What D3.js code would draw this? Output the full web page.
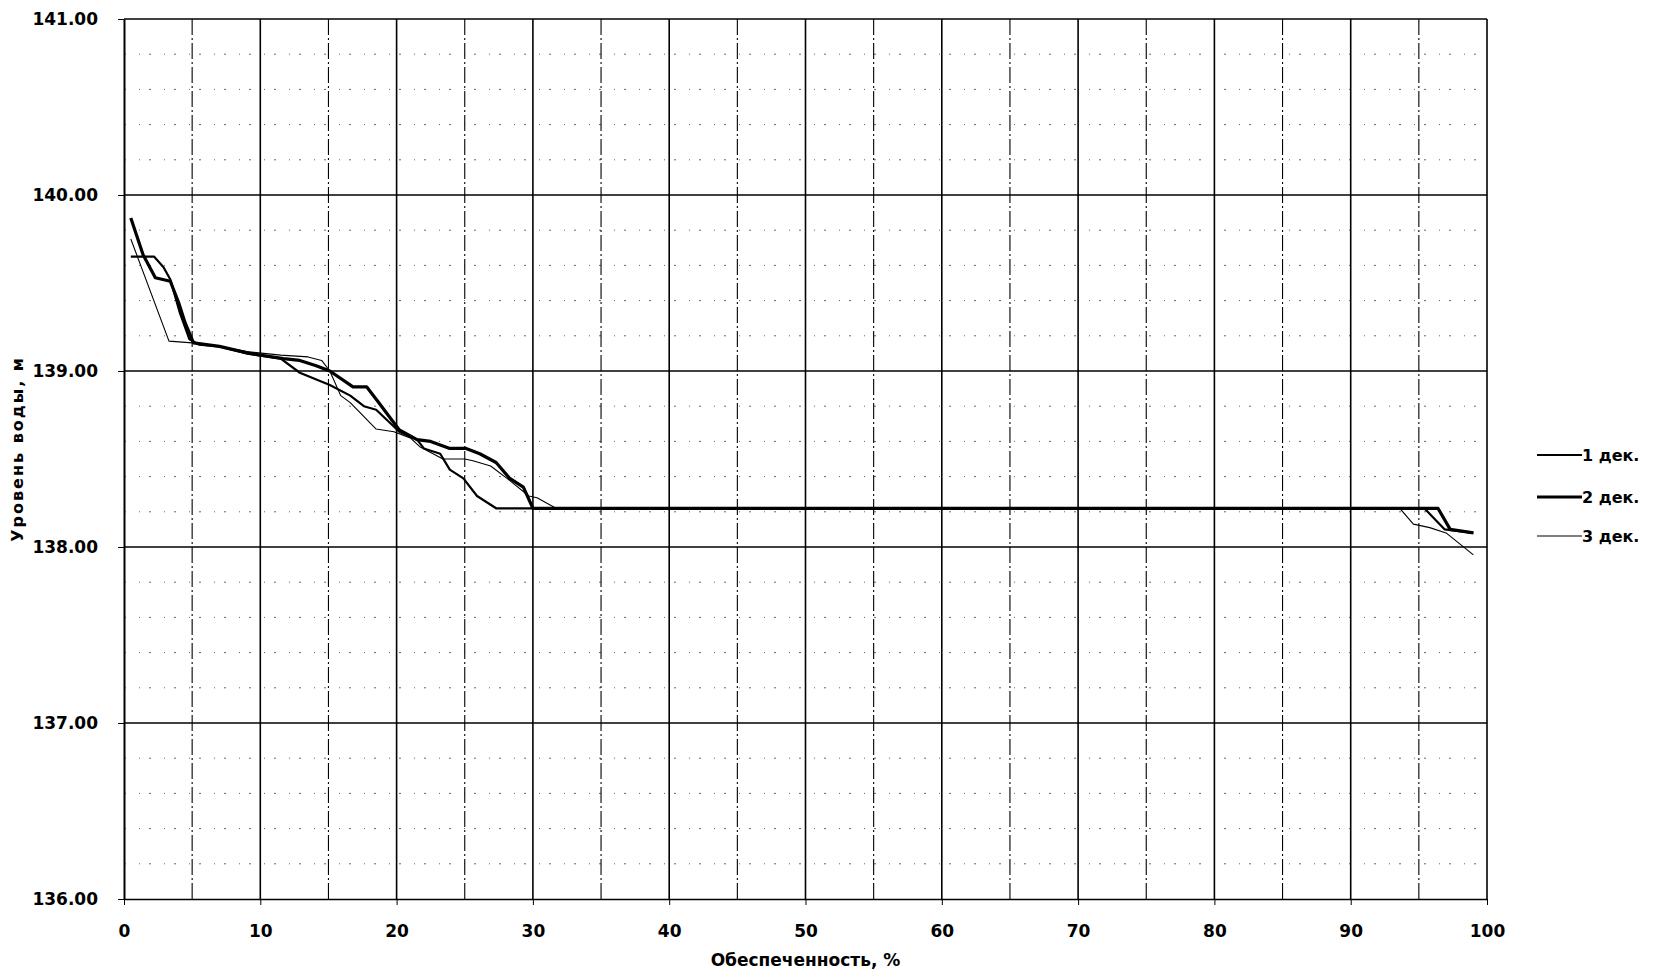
<!DOCTYPE html>
<html lang="ru">
<head>
<meta charset="utf-8">
<title>Уровень воды</title>
<script src="https://d3js.org/d3.v7.min.js"></script>
<style>
  body { margin: 0; background: #fff; }
  svg text { font-family: "DejaVu Sans", Verdana, sans-serif; font-weight: bold; fill: #000; }
  .axis path, .axis line { stroke: #000; }
</style>
</head>
<body>
<svg id="chart" width="1654" height="978"></svg>
<script>
// обеспеченность, % / уровень воды, м
const dek1 = [[0.5,139.65],[2.2,139.65],[2.9,139.59],[3.4,139.52],[4.1,139.33],[4.8,139.18],[5.5,139.15],[7.0,139.14],
  [9.0,139.10],[11.5,139.07],[12.9,138.99],[15.1,138.92],[16.6,138.86],[17.6,138.80],[18.5,138.78],[20.2,138.655],
  [21.5,138.61],[22.0,138.56],[23.2,138.53],[23.9,138.44],[24.9,138.39],[25.9,138.29],[27.3,138.22],
  [95.4,138.22],[96.9,138.10],[99.0,138.08]];
const dek2 = [[0.5,139.87],[1.4,139.66],[2.3,139.53],[3.4,139.51],[4.0,139.39],[4.5,139.27],[5.1,139.16],[7.0,139.14],
  [9.2,139.10],[11.7,139.07],[12.9,139.06],[14.1,139.03],[15.1,139.0],[16.8,138.91],[17.8,138.91],[18.6,138.83],
  [20.2,138.665],[21.5,138.61],[22.5,138.60],[23.9,138.56],[25.1,138.56],[26.1,138.53],[27.3,138.48],[28.3,138.39],
  [29.3,138.34],[30.0,138.22],[96.4,138.22],[97.3,138.10],[99.0,138.08]];
const dek3 = [[0.5,139.75],[3.3,139.17],[5.0,139.16],[7.0,139.14],[9.0,139.11],[11.5,139.09],[13.5,139.08],[14.5,139.06],
  [15.1,139.0],[15.9,138.86],[16.6,138.82],[18.5,138.67],[19.8,138.655],[21.0,138.62],[21.7,138.57],[23.4,138.50],
  [25.0,138.50],[25.6,138.49],[26.9,138.46],[28.1,138.39],[29.7,138.29],[30.3,138.28],[31.7,138.22],
  [93.6,138.22],[94.6,138.13],[95.8,138.11],[97.0,138.08],[99.0,137.955]];

const xTicks = [0, 10, 20, 30, 40, 50, 60, 70, 80, 90, 100];
const yTicks = [136, 137, 138, 139, 140, 141];
const seriesNames = ["1 дек.", "2 дек.", "3 дек."];
const seriesWidths = [2.2, 3.2, 1.1];

let svg = d3.select("#chart");
let pLeft = 124, pRight = 1487, pTop = 19, pBottom = 899;

let x = d3.scaleLinear().domain([0, 100]).range([pLeft, pRight]);
let y = d3.scaleLinear().domain([136, 141]).range([pBottom, pTop]);

// сетка
let grid = svg.append("g");
grid.selectAll(".hmin")
    .data(d3.range(136.2, 141, 0.2).filter(v => Math.abs(v - Math.round(v)) > 0.01))
    .enter().append("line")
    .attr("x1", pLeft).attr("x2", pRight)
    .attr("y1", d => y(d)).attr("y2", d => y(d))
    .attr("stroke", "#666").attr("stroke-width", 1)
    .attr("stroke-dasharray", "2,13,1,9");
grid.selectAll(".vmin")
    .data(d3.range(5, 100, 10))
    .enter().append("line")
    .attr("x1", d => x(d)).attr("x2", d => x(d))
    .attr("y1", pTop).attr("y2", pBottom)
    .attr("stroke", "#000").attr("stroke-width", 1.1)
    .attr("stroke-dasharray", "16,3,2,3");
grid.selectAll(".vmaj")
    .data(xTicks.slice(1))
    .enter().append("line")
    .attr("x1", d => x(d)).attr("x2", d => x(d))
    .attr("y1", pTop).attr("y2", pBottom)
    .attr("stroke", "#000").attr("stroke-width", 1.6);
grid.selectAll(".hmaj")
    .data(yTicks.slice(1))
    .enter().append("line")
    .attr("x1", pLeft).attr("x2", pRight)
    .attr("y1", d => y(d)).attr("y2", d => y(d))
    .attr("stroke", "#000").attr("stroke-width", 1.4);

// оси
svg.append("g").attr("class", "axis")
    .attr("transform", "translate(0," + pBottom + ")")
    .call(d3.axisBottom(x).tickValues(xTicks).tickSize(6).tickPadding(20).tickSizeOuter(0))
    .call(g => g.select(".domain").attr("stroke-width", 1.6))
    .selectAll("text").attr("font-size", 17);
svg.append("g").attr("class", "axis")
    .attr("transform", "translate(" + pLeft + ",0)")
    .call(d3.axisLeft(y).tickValues(yTicks).tickFormat(d3.format(".2f")).tickSize(6).tickPadding(20).tickSizeOuter(0))
    .call(g => g.select(".domain").attr("stroke-width", 2))
    .selectAll("text").attr("font-size", 17);

// кривые
let line = d3.line().x(d => x(d[0])).y(d => y(d[1]));
let series = [dek1, dek2, dek3];
svg.selectAll(".curve")
    .data(series)
    .enter().append("path")
    .attr("d", line)
    .attr("fill", "none")
    .attr("stroke", "#000")
    .attr("stroke-linejoin", "round")
    .attr("stroke-width", (d, i) => seriesWidths[i]);

// подписи осей
svg.append("text")
    .attr("x", (pLeft + pRight) / 2).attr("y", 966)
    .attr("text-anchor", "middle").attr("font-size", 17)
    .text("Обеспеченность, %");
svg.append("text")
    .attr("transform", "translate(23,449) rotate(-90)")
    .attr("text-anchor", "middle").attr("font-size", 16)
    .attr("letter-spacing", 2)
    .text("Уровень воды, м");

// легенда
let legend = svg.append("g").selectAll("g")
    .data(seriesNames)
    .enter().append("g")
    .attr("transform", (d, i) => "translate(1537," + [455, 497, 536][i] + ")");
legend.append("line")
    .attr("x1", 0).attr("x2", 45)
    .attr("stroke", "#000")
    .attr("stroke-width", (d, i) => seriesWidths[i]);
legend.append("text")
    .attr("x", 45).attr("dy", "0.35em")
    .attr("font-size", 16)
    .text(d => d);
</script>
</body>
</html>
